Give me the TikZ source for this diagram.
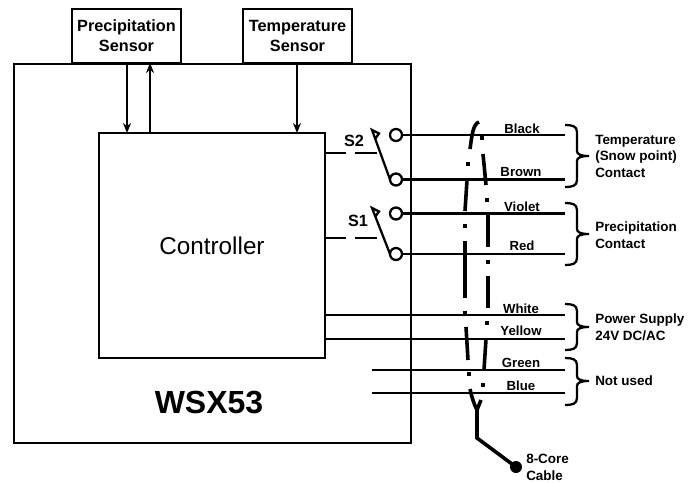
\documentclass[tikz,border=0pt]{standalone}
\usepackage{fontspec}
\setmainfont{Liberation Sans}
\usetikzlibrary{arrows.meta}
\tikzset{
  x=0.75pt,y=-0.75pt,
  block/.style={draw=black,line width=1.9pt,fill=white,inner sep=0pt,outer sep=0pt,align=center},
  wire/.style={line width=1.9pt,black},
  thinwire/.style={line width=1.7pt,black},
  sig/.style={line width=1.7pt,black,-{Stealth[length=7.5pt,width=6pt]}},
  term/.style={circle,draw=black,line width=1.7pt,fill=white,minimum size=9pt,inner sep=0pt,outer sep=0pt},
  core/.style={line width=2.7pt,black},
  hdr/.style={font=\bfseries\fontsize{12.2}{15}\selectfont,align=center,inner sep=0pt},
  wl/.style={font=\bfseries\fontsize{9.9}{12}\selectfont,inner sep=0pt},
  side/.style={font=\bfseries\fontsize{10.1}{12.4}\selectfont,align=left,anchor=west,inner sep=0pt},
  brc/.style={line width=1.7pt,black},
  swl/.style={font=\bfseries\fontsize{12.2}{15}\selectfont,inner sep=0pt},
}
\newcommand{\wsxbrace}[3]{% top, mid, bottom
  \draw[brc] (565,#1) .. controls (572,#1) and (577,#1+1) .. (577,#1+7)
    -- (577,#2-5) .. controls (577,#2-2) and (580,#2) .. (589,#2)
    .. controls (580,#2) and (577,#2+2) .. (577,#2+5)
    -- (577,#3-7) .. controls (577,#3-1) and (572,#3) .. (565,#3);}
\begin{document}
\begin{tikzpicture}
\useasboundingbox (0,0) rectangle (699,482);
% boxes
\node[block,minimum width=297.75pt,minimum height=284.25pt] (outer) at (212.5,253.5) {};
\node[block,minimum width=81.75pt,minimum height=40.5pt,hdr] (psens) at (126.5,36) {Precipitation\\Sensor};
\node[block,minimum width=81.75pt,minimum height=40.5pt,hdr] (tsens) at (297.5,36) {Temperature\\Sensor};
\node[block,minimum width=169.5pt,minimum height=168.75pt,font=\fontsize{18.2}{22}\selectfont] (ctrl) at (212,245.5) {Controller};
\node[font=\bfseries\fontsize{24}{28}\selectfont,inner sep=0pt] (wsx) at (209,402) {WSX53};
% sensor arrows
\coordinate (pd) at (127,63);
\coordinate (pu) at (150,133);
\coordinate (td) at (297,63);
\draw[sig] (pd) -- (pd |- ctrl.north);
\draw[sig] (pu) -- (pu |- psens.south);
\draw[sig] (td) -- (td |- ctrl.north);
% terminals
\node[term] (t1) at (396,135) {};
\node[term] (t2) at (396,179.5) {};
\node[term] (t3) at (396,213.5) {};
\node[term] (t4) at (396,254) {};
% wire ends
\coordinate (e1) at (565,135);
\coordinate (e2) at (565,179.5);
\coordinate (e3) at (565,213.5);
\coordinate (e4) at (565,254);
\coordinate (e5) at (565,315);
\coordinate (e6) at (565,339);
\coordinate (e7) at (565,370);
\coordinate (e8) at (565,393);
\coordinate (s7) at (372,370);
\coordinate (s8) at (372,393);
\draw[wire] (t1.east) -- (e1);
\draw[wire] (t2.east) -- (e2);
\draw[wire] (t3.east) -- (e3);
\draw[wire] (t4.east) -- (e4);
\draw[wire] (ctrl.east |- e5) -- (e5);
\draw[wire] (ctrl.east |- e6) -- (e6);
\draw[wire] (s7) -- (e7);
\draw[wire] (s8) -- (e8);
% switches
\coordinate (l2) at (372,130);
\coordinate (l1) at (372,208);
\coordinate (d2) at (377,153);
\coordinate (d1) at (377,238);
\draw[thinwire,line join=miter] (t2.west) -- (l2) -- (379,133.5) -- (375,139);
\draw[thinwire,line join=miter] (t4.west) -- (l1) -- (379,211.5) -- (375,217);
\draw[thinwire] (ctrl.east |- d2) -- (346,153);
\draw[thinwire] (355,153) -- (d2);
\draw[thinwire] (ctrl.east |- d1) -- (346,238);
\draw[thinwire] (355,238) -- (d1);
\node[swl] (s2) at (354,141) {S2};
\node[swl] (s1) at (358,221) {S1};
% wire labels
\node[wl] (lb1) at (522,129) {Black};
\node[wl] (lb2) at (521,172) {Brown};
\node[wl] (lb3) at (522,207) {Violet};
\node[wl] (lb4) at (522,246) {Red};
\node[wl] (lb5) at (521,309) {White};
\node[wl] (lb6) at (521,331) {Yellow};
\node[wl] (lb7) at (521,363) {Green};
\node[wl] (lb8) at (521,386) {Blue};
% braces
\wsxbrace{125}{156}{187}
\wsxbrace{203}{234}{265}
\wsxbrace{304}{327}{350}
\wsxbrace{358}{381}{405}
\node[side] (g1) at (595,156) {Temperature\\(Snow point)\\Contact};
\node[side] (g2) at (595,235) {Precipitation\\Contact};
\node[side] (g3) at (595,327) {Power Supply\\24V DC/AC};
\node[side] (g4) at (595,381) {Not used};
% cable sheath
\draw[core] (470,149) .. controls (472,135) and (473,124) .. (479,122);
\draw[core] (467,180) -- (465,211);
\draw[core] (465,241) -- (465,298);
\draw[core] (466,327) -- (468,360);
\draw[core] (470,389) .. controls (472,398) and (474,404) .. (477,410);
\draw[core] (483,154) -- (486,185);
\draw[core] (488,215) -- (488,247);
\draw[core] (488,276) -- (488,308);
\draw[core] (486,339) -- (484,370);
\draw[core] (481,400) -- (477,410);
\foreach \dx/\dy in {482/138,468/164,487/200,465/226,488/262,465/313,487/323,469/374,483/385}
  \fill (\dx-2,\dy-2) rectangle +(4,4);
% tail
\node[circle,fill=black,minimum size=9pt,inner sep=0pt] (plug) at (516,467) {};
\coordinate (jn) at (477,410);
\draw[core,line join=miter] (jn) -- (477,438) -- (plug.center);
\node[side] (cab) at (526,467.5) {8-Core\\Cable};
\end{tikzpicture}
\end{document}
